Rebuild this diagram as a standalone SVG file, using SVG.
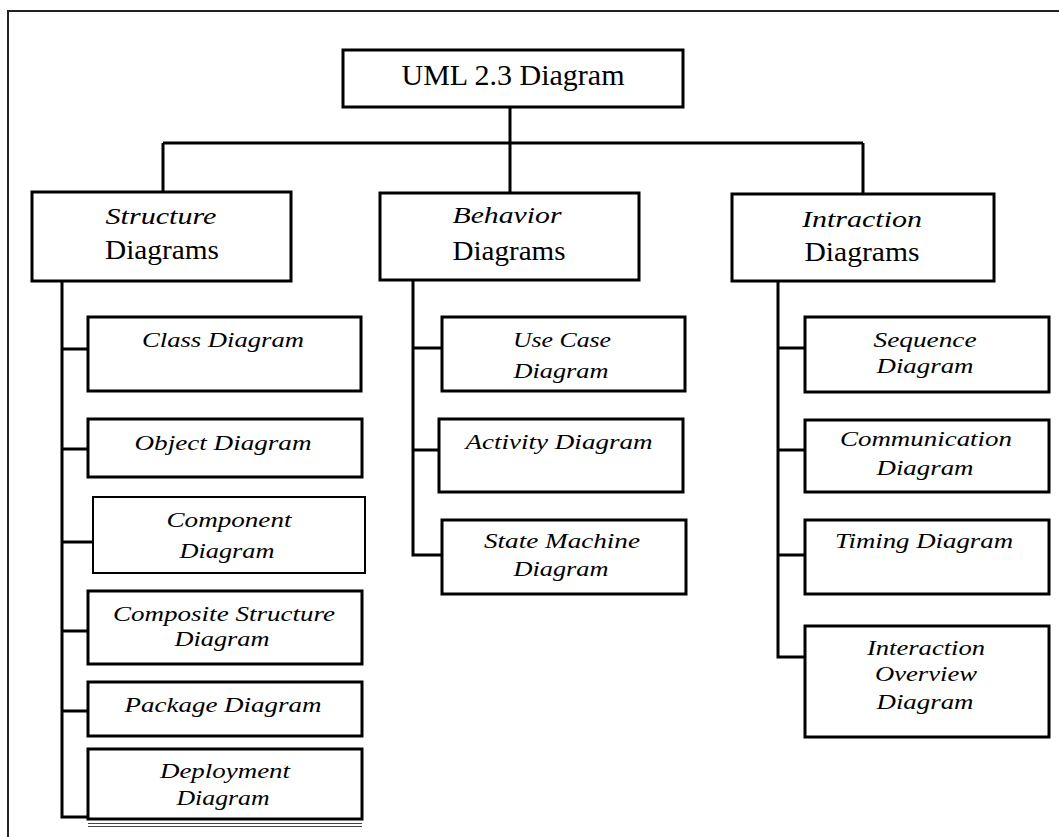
<svg xmlns="http://www.w3.org/2000/svg" width="1059" height="837" viewBox="0 0 1059 837">
<style>
.box{fill:#fff;stroke:#000;stroke-width:3}
.ln{stroke:#000;stroke-width:3;fill:none}
.frame{stroke:#222;stroke-width:2;fill:none}
.t{font-family:"Liberation Serif","Times New Roman",serif;fill:#000;text-anchor:middle}
.it{font-style:italic;font-size:22px}
.ci{font-style:italic;font-size:24px}
.rm{font-size:27px}
.root{font-size:30px}
</style>
<rect width="1059" height="837" fill="#fff"/>
<path class="frame" d="M8,837 V11 H1059"/>
<g id="connectors">
<path class="ln" d="M510,107 V143"/>
<path class="ln" d="M163,143 H863"/>
<path class="ln" d="M163,143 V192 M510,143 V193 M863,143 V194"/>
<path class="ln" d="M62,281 V817 H88 M62,349 H88 M62,449 H88 M62,542 H93 M62,631 H88 M62,711 H88"/>
<path class="ln" d="M413,280 V555 H442 M413,348 H442 M413,450 H439"/>
<path class="ln" d="M778,281 V657 H805 M778,348 H805 M778,450 H805 M778,555 H805"/>
</g>
<g id="root">
<rect class="box" x="343" y="50" width="340" height="57"/>
<text class="t root" x="513" y="85" textLength="223" lengthAdjust="spacingAndGlyphs">UML 2.3 Diagram</text>
</g>
<g id="structure">
<rect class="box" x="32" y="192" width="259" height="89"/>
<text class="t ci" x="161" y="224" textLength="111" lengthAdjust="spacingAndGlyphs">Structure</text>
<text class="t rm" x="162" y="259" textLength="114" lengthAdjust="spacingAndGlyphs">Diagrams</text>
</g>
<g id="behavior">
<rect class="box" x="380" y="193" width="259" height="87"/>
<text class="t ci" x="507" y="223" textLength="109" lengthAdjust="spacingAndGlyphs">Behavior</text>
<text class="t rm" x="509" y="260" textLength="113" lengthAdjust="spacingAndGlyphs">Diagrams</text>
</g>
<g id="interaction">
<rect class="box" x="732" y="194" width="262" height="87"/>
<text class="t ci" x="862" y="227" textLength="120" lengthAdjust="spacingAndGlyphs">Intraction</text>
<text class="t rm" x="862" y="261" textLength="115" lengthAdjust="spacingAndGlyphs">Diagrams</text>
</g>
<g id="class">
<rect class="box" x="88" y="317" width="273" height="74"/>
<text class="t it" x="223" y="347" textLength="162" lengthAdjust="spacingAndGlyphs">Class Diagram</text>
</g>
<g id="object">
<rect class="box" x="88" y="419" width="274" height="58"/>
<text class="t it" x="223" y="450" textLength="177" lengthAdjust="spacingAndGlyphs">Object Diagram</text>
</g>
<g id="component">
<rect class="box" x="93" y="497" width="272" height="76" style="stroke-width:2"/>
<text class="t it" x="229" y="527" textLength="125" lengthAdjust="spacingAndGlyphs">Component</text>
<text class="t it" x="227" y="558" textLength="95" lengthAdjust="spacingAndGlyphs">Diagram</text>
</g>
<g id="composite">
<rect class="box" x="88" y="591" width="274" height="73"/>
<text class="t it" x="224" y="621" textLength="222" lengthAdjust="spacingAndGlyphs">Composite Structure</text>
<text class="t it" x="222" y="646" textLength="95" lengthAdjust="spacingAndGlyphs">Diagram</text>
</g>
<g id="package">
<rect class="box" x="88" y="682" width="274" height="54"/>
<text class="t it" x="223" y="712" textLength="197" lengthAdjust="spacingAndGlyphs">Package Diagram</text>
</g>
<g id="deployment">
<rect class="box" x="88" y="749" width="274" height="70"/>
<text class="t it" x="225" y="778" textLength="130" lengthAdjust="spacingAndGlyphs">Deployment</text>
<text class="t it" x="223" y="805" textLength="93" lengthAdjust="spacingAndGlyphs">Diagram</text>
<path d="M88,823.5 H362 M88,826.5 H362" stroke="#444" stroke-width="1" fill="none"/>
</g>
<g id="usecase">
<rect class="box" x="442" y="317" width="243" height="74"/>
<text class="t it" x="562" y="347" textLength="98" lengthAdjust="spacingAndGlyphs">Use Case</text>
<text class="t it" x="561" y="378" textLength="95" lengthAdjust="spacingAndGlyphs">Diagram</text>
</g>
<g id="activity">
<rect class="box" x="439" y="419" width="244" height="73"/>
<text class="t it" x="559" y="449" textLength="187" lengthAdjust="spacingAndGlyphs">Activity Diagram</text>
</g>
<g id="statemachine">
<rect class="box" x="442" y="520" width="244" height="74"/>
<text class="t it" x="562" y="548" textLength="156" lengthAdjust="spacingAndGlyphs">State Machine</text>
<text class="t it" x="561" y="576" textLength="95" lengthAdjust="spacingAndGlyphs">Diagram</text>
</g>
<g id="sequence">
<rect class="box" x="805" y="317" width="244" height="75"/>
<text class="t it" x="925" y="347" textLength="103" lengthAdjust="spacingAndGlyphs">Sequence</text>
<text class="t it" x="925" y="373" textLength="97" lengthAdjust="spacingAndGlyphs">Diagram</text>
</g>
<g id="communication">
<rect class="box" x="805" y="420" width="244" height="72"/>
<text class="t it" x="926" y="446" textLength="172" lengthAdjust="spacingAndGlyphs">Communication</text>
<text class="t it" x="925" y="475" textLength="97" lengthAdjust="spacingAndGlyphs">Diagram</text>
</g>
<g id="timing">
<rect class="box" x="805" y="520" width="244" height="74"/>
<text class="t it" x="924" y="548" textLength="178" lengthAdjust="spacingAndGlyphs">Timing Diagram</text>
</g>
<g id="overview">
<rect class="box" x="805" y="626" width="244" height="111"/>
<text class="t it" x="926" y="655" textLength="118" lengthAdjust="spacingAndGlyphs">Interaction</text>
<text class="t it" x="926" y="681" textLength="102" lengthAdjust="spacingAndGlyphs">Overview</text>
<text class="t it" x="925" y="709" textLength="97" lengthAdjust="spacingAndGlyphs">Diagram</text>
</g>
</svg>
